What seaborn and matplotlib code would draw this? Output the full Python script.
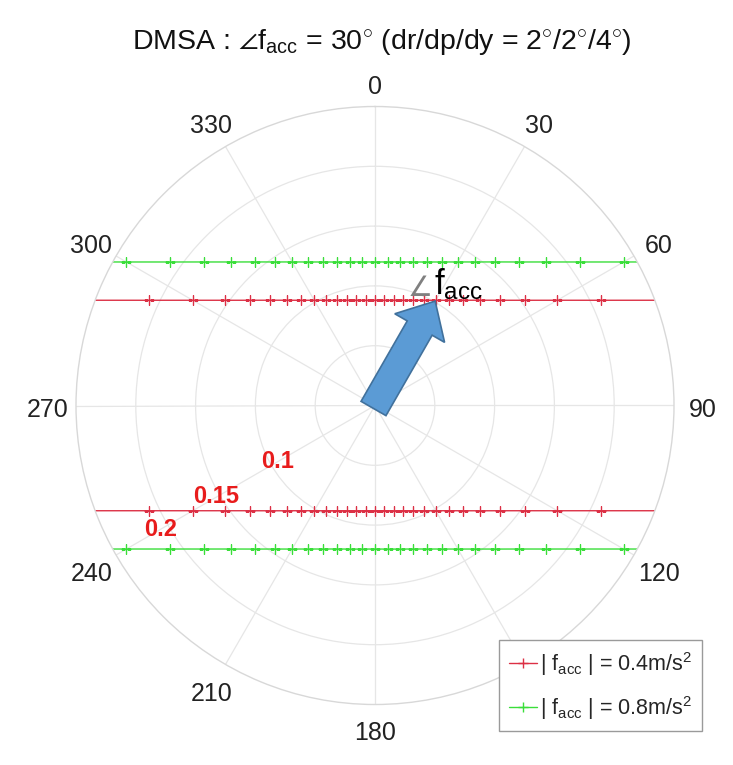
import numpy as np
import matplotlib
matplotlib.use("Agg")
import matplotlib.pyplot as plt
import matplotlib.transforms as mtransforms
import seaborn as sns
from matplotlib.patches import FancyArrow

# ---------------- data ----------------
theta_ticks = [0, 30, 60, 90, 120, 150, 180, 210, 240, 270, 300, 330]
# "150" is hidden behind the legend in the reference
theta_labels = ["0", "30", "60", "90", "120", "", "180", "210", "240", "270", "300", "330"]
r_rings = [0.05, 0.10, 0.15, 0.20]
r_max = 0.25
ring_notes = ["0.1", "0.15", "0.2"]
ring_note_r = [0.094, 0.153, 0.207]
ring_note_theta = 240

# angles (deg, clockwise from top) of the sampled points
theta_red_top = [-70, -65, -60, -55, -50, -45, -40, -35, -30, -25, -20, -15, -10, -5, 0,
                 5, 10, 15, 20, 25, 30, 35, 40, 45, 50, 55, 60, 65, 70]
r_red_top = [0.2573, 0.2082, 0.1760, 0.1534, 0.1369, 0.1245, 0.1149, 0.1074, 0.1016, 0.0971,
             0.0936, 0.0911, 0.0894, 0.0883, 0.0880, 0.0883, 0.0894, 0.0911, 0.0936, 0.0971,
             0.1016, 0.1074, 0.1149, 0.1245, 0.1369, 0.1534, 0.1760, 0.2082, 0.2573]
theta_red_bot = [110, 115, 120, 125, 130, 135, 140, 145, 150, 155, 160, 165, 170, 175, 180,
                 185, 190, 195, 200, 205, 210, 215, 220, 225, 230, 235, 240, 245, 250]
r_red_bot = [0.2573, 0.2082, 0.1760, 0.1534, 0.1369, 0.1245, 0.1149, 0.1074, 0.1016, 0.0971,
             0.0936, 0.0911, 0.0894, 0.0883, 0.0880, 0.0883, 0.0894, 0.0911, 0.0936, 0.0971,
             0.1016, 0.1074, 0.1149, 0.1245, 0.1369, 0.1534, 0.1760, 0.2082, 0.2573]

theta_green_top = [-65, -60, -55, -50, -45, -40, -35, -30, -25, -20, -15, -10, -5, 0,
                   5, 10, 15, 20, 25, 30, 35, 40, 45, 50, 55, 60, 65]
r_green_top = [0.2840, 0.2400, 0.2092, 0.1867, 0.1697, 0.1567, 0.1465, 0.1386, 0.1324, 0.1277,
               0.1242, 0.1219, 0.1205, 0.1200, 0.1205, 0.1219, 0.1242, 0.1277, 0.1324, 0.1386,
               0.1465, 0.1567, 0.1697, 0.1867, 0.2092, 0.2400, 0.2840]
theta_green_bot = [115, 120, 125, 130, 135, 140, 145, 150, 155, 160, 165, 170, 175, 180,
                   185, 190, 195, 200, 205, 210, 215, 220, 225, 230, 235, 240, 245]
r_green_bot = [0.2840, 0.2400, 0.2092, 0.1867, 0.1697, 0.1567, 0.1465, 0.1386, 0.1324, 0.1277,
               0.1242, 0.1219, 0.1205, 0.1200, 0.1205, 0.1219, 0.1242, 0.1277, 0.1324, 0.1386,
               0.1465, 0.1567, 0.1697, 0.1867, 0.2092, 0.2400, 0.2840]

series_labels = [r"| f$_{\rm acc}$ | = 0.4m/s$^2$", r"| f$_{\rm acc}$ | = 0.8m/s$^2$"]
red = "#dc3045"
green = "#3ade3a"

# ---------------- style ----------------
sns.set_theme(style="white")
plt.rcParams["font.family"] = ["Liberation Sans", "DejaVu Sans"]
plt.rcParams["mathtext.fontset"] = "custom"
plt.rcParams["mathtext.rm"] = "Liberation Sans"
plt.rcParams["mathtext.it"] = "Liberation Sans:italic"
plt.rcParams["mathtext.bf"] = "Liberation Sans:bold"

W, H = 733, 765
fig = plt.figure(figsize=(W / 100, H / 100), dpi=100)
fig.patch.set_facecolor("white")
# polar axes: centre (375, 405.5), radius 299 px
cx, cy, R = 375, 405.5, 299
ax = fig.add_axes([(cx - R) / W, 1 - (cy + R) / H, 2 * R / W, 2 * R / H], projection="polar")
ax.set_facecolor("white")
ax.set_theta_zero_location("N")
ax.set_theta_direction(-1)
ax.set_rlim(0, r_max)
ax.set_thetagrids(theta_ticks, [""] * len(theta_ticks))
ax.set_rgrids(r_rings, labels=[""] * len(r_rings))
ax.grid(True, color="#e6e6e6", linewidth=0.9)
ax.spines["polar"].set_color("#d8d8d8")
ax.spines["polar"].set_linewidth(1.0)

# theta labels placed just outside the circle
lab_tr = mtransforms.offset_copy(ax.transData, fig=fig, x=0, y=-2, units="dots")
for t, lab in zip(theta_ticks, theta_labels):
    if not lab:
        continue
    rr = r_max * (1.08 if t in (0, 180) else 1.095)
    ax.text(np.deg2rad(t), rr, lab, fontsize=18, color="#222222",
            ha="center", va="center_baseline", clip_on=False, transform=lab_tr)

def draw(th, rr, color, label):
    sns.lineplot(x=np.deg2rad(th), y=rr, ax=ax, sort=False, estimator=None,
                 color=color, linewidth=1.0, marker="+", markersize=7.5,
                 markeredgewidth=1.0, markeredgecolor=color, label=label, legend=False)

draw(theta_red_top, r_red_top, red, series_labels[0])
draw(theta_red_bot, r_red_bot, red, None)
draw(theta_green_top, r_green_top, green, series_labels[1])
draw(theta_green_bot, r_green_bot, green, None)
ax.set_xlabel("")
ax.set_ylabel("")
ax.set_rlim(0, r_max)

for txt, rr in zip(ring_notes, ring_note_r):
    ax.text(np.deg2rad(ring_note_theta), rr, txt, color="#e81c1c", fontsize=17,
            fontweight="bold", ha="center", va="center", zorder=6)

# block arrow pointing at the 30 deg direction
arrow = FancyArrow(0.4975, 0.495, 0.1031, 0.1796, width=0.048, head_width=0.096,
                   head_length=0.052, length_includes_head=True, transform=ax.transAxes,
                   facecolor="#5b9bd5", edgecolor="#41719c", linewidth=1.2, zorder=7,
                   clip_on=False)
ax.add_patch(arrow)

fig.text(420 / W, 1 - 288 / H, "∠", fontsize=20, color="#808080", ha="center", va="center",
         family=["DejaVu Sans"])
fig.text(434 / W, 1 - 284 / H, r"f$_{\rm acc}$", fontsize=25, color="black", ha="left",
         va="center")

fig.text(382 / W, 1 - 42 / H,
         r"DMSA : $\angle$f$_{\rm acc}$ = 30$^{\circ}$ (dr/dp/dy = 2$^{\circ}$/2$^{\circ}$/4$^{\circ}$)",
         fontsize=20.5, ha="center", va="center", color="#111111")

handles, labels = ax.get_legend_handles_labels()
leg = fig.legend(handles, labels, loc="upper left", bbox_to_anchor=(499 / W, 1 - 640 / H),
                 fontsize=15.5, frameon=True, fancybox=False, framealpha=1,
                 edgecolor="#9a9a9a", handlelength=1.3, handletextpad=0.15,
                 borderpad=0.45, labelspacing=0.75, borderaxespad=0)
leg.get_frame().set_linewidth(1.0)

fig.savefig("out.png", dpi=100, facecolor="white")
